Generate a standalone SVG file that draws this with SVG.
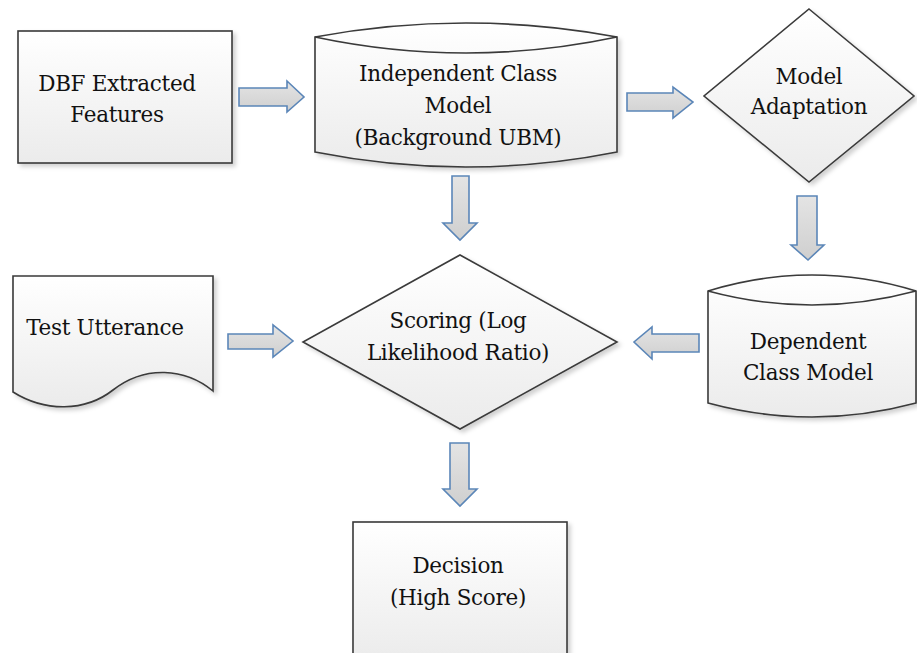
<svg xmlns="http://www.w3.org/2000/svg" width="917" height="653" viewBox="0 0 917 653">
<style>
.shape{fill:url(#g);stroke:#3a3a3a;stroke-width:1.6;filter:url(#sh)}
.line{fill:none;stroke:#3a3a3a;stroke-width:1.6}
.arrow{fill:url(#ga);stroke:#5b86b8;stroke-width:1.6;stroke-linejoin:miter}
.t{font-family:'DejaVu Serif',serif;font-size:21.5px;letter-spacing:-0.3px;fill:#111;text-anchor:middle}
</style>
<defs>
<linearGradient id="g" x1="0" y1="0" x2="0" y2="1">
<stop offset="0" stop-color="#ffffff"/>
<stop offset="1" stop-color="#ebebeb"/>
</linearGradient>
<linearGradient id="ga" x1="0" y1="0" x2="0" y2="1">
<stop offset="0" stop-color="#e4e4e4"/>
<stop offset="1" stop-color="#cfcfcf"/>
</linearGradient>
<filter id="sh" x="-10%" y="-10%" width="125%" height="125%">
<feDropShadow dx="3" dy="3" stdDeviation="2" flood-color="#000" flood-opacity="0.18"/>
</filter>
</defs>
<rect width="917" height="653" fill="#fff"/>

<g id="dbf">
<rect class="shape" x="18" y="31" width="214" height="132"/>
<text class="t" x="117" y="91">DBF Extracted</text>
<text class="t" x="117" y="122">Features</text>
</g>

<g id="ubm">
<path class="shape" d="M315,37 Q466,9 617,37 V152 Q466,182 315,152 Z"/>
<path class="line" d="M315,37 Q466,69 617,37"/>
<text class="t" x="458" y="81">Independent Class</text>
<text class="t" x="458" y="113">Model</text>
<text class="t" x="458" y="145">(Background UBM)</text>
</g>

<g id="adapt">
<path class="shape" d="M809,9 L914,96 L809,182 L704,96 Z"/>
<text class="t" x="809" y="84">Model</text>
<text class="t" x="809" y="114">Adaptation</text>
</g>

<g id="test">
<path class="shape" d="M13,276 H213 V391 C185,368 145,365 113,390 C85,412 45,412 13,392 Z"/>
<text class="t" x="105" y="335">Test Utterance</text>
</g>

<g id="scoring">
<path class="shape" d="M460,255 L617,342 L460,429 L303,342 Z"/>
<text class="t" x="458" y="328">Scoring (Log</text>
<text class="t" x="458" y="360">Likelihood Ratio)</text>
</g>

<g id="dependent">
<path class="shape" d="M708,291 Q812,259 916,291 V403 Q812,431 708,403 Z"/>
<path class="line" d="M708,291 Q812,319 916,291"/>
<text class="t" x="808" y="349">Dependent</text>
<text class="t" x="808" y="380">Class Model</text>
</g>

<g id="decision">
<rect class="shape" x="353" y="522" width="214" height="140"/>
<text class="t" x="458" y="573">Decision</text>
<text class="t" x="458" y="605">(High Score)</text>
</g>

<g id="connectors">
<path class="arrow" d="M239,88 H287 V81 L304,97 L287,112 V106 H239 Z"/>
<path class="arrow" d="M627,93 H673 V87 L693,102 L673,118 V111 H627 Z"/>
<path class="arrow" d="M452,176 H469 V223 H477 L460,240 L443,223 H452 Z"/>
<path class="arrow" d="M797,196 H817 V245 H824 L808,260 L791,245 H797 Z"/>
<path class="arrow" d="M228,334 H273 V325 L293,341 L273,357 V349 H228 Z"/>
<path class="arrow" d="M699,334 H652 V327 L634,342 L652,359 V352 H699 Z"/>
<path class="arrow" d="M450,443 H469 V489 H477 L460,506 L443,489 H450 Z"/>
</g>
</svg>
